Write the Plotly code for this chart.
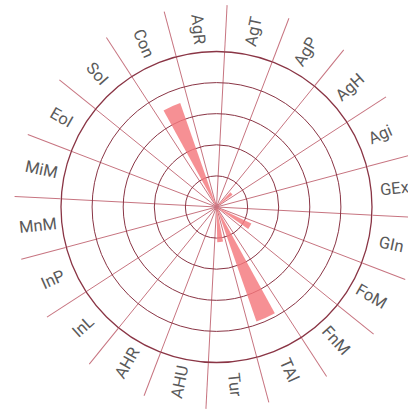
import math
import plotly.graph_objects as go

categories = ["AgR", "AgT", "AgP", "AgH", "Agi", "GEx", "GIn", "FoM", "FnM", "TAl",
              "Tur", "AHU", "AHR", "InL", "InP", "MnM", "MiM", "EoI", "SoI", "Con"]
values = [0, 0, 0, 0.65, 0, 0, 0, 1.24, 0, 3.9,
          1.13, 0, 0, 0, 0, 0, 0, 0, 0, 3.54]
ring_ticks = [1, 2, 3, 4]
r_max = 5

W, H = 408, 415
cx, cy = 216.5, 207.0      # centre of the polar area, px
R = 155.5                   # radius of outer ring, px
rotation = 96
n = len(categories)
step = 360 / n
theta = [i * step for i in range(n)]
boundaries = [i * step + step / 2 for i in range(n)]

ring_col = "#8a3545"
spoke_col = "#c77480"

fig = go.Figure()
fig.add_trace(go.Barpolar(
    r=values, theta=theta, width=[9.5] * n,
    marker=dict(color="rgba(244,120,124,0.82)", line=dict(width=0)),
    hoverinfo="skip", showlegend=False,
))

fig.update_layout(
    width=W, height=H,
    margin=dict(l=0, r=0, t=0, b=0),
    paper_bgcolor="white", plot_bgcolor="white",
    polar=dict(
        domain=dict(x=[(cx - R) / W, (cx + R) / W], y=[1 - (cy + R) / H, 1 - (cy - R) / H]),
        bgcolor="white",
        radialaxis=dict(range=[0, r_max], tickvals=ring_ticks, showticklabels=False,
                        ticks="", showline=False, gridcolor=ring_col, gridwidth=1.1,
                        layer="above traces"),
        angularaxis=dict(thetaunit="degrees", rotation=rotation, direction="clockwise",
                         tickvals=boundaries, showticklabels=False,
                         ticks="outside", ticklen=46, tickwidth=0.8, tickcolor=spoke_col,
                         gridcolor=spoke_col, gridwidth=0.8,
                         showline=True, linecolor=ring_col, linewidth=1.3,
                         layer="above traces"),
    ),
)

label_r = 179
for name, t in zip(categories, theta):
    b = (90 - rotation + t) % 360
    ang = b - 90 if b < 180 else b - 270
    x = cx + label_r * math.sin(math.radians(b))
    y = cy - label_r * math.cos(math.radians(b))
    fig.add_annotation(text=name, x=x / W, y=1 - y / H, xref="paper", yref="paper",
                       showarrow=False, textangle=ang, xanchor="center", yanchor="middle",
                       font=dict(family="Roboto", size=16.5, color="#5a5a5a"))

fig.write_html("out.html", config={"displayModeBar": False},
               post_script="document.body.style.margin='0px';document.body.style.overflow='hidden';")
